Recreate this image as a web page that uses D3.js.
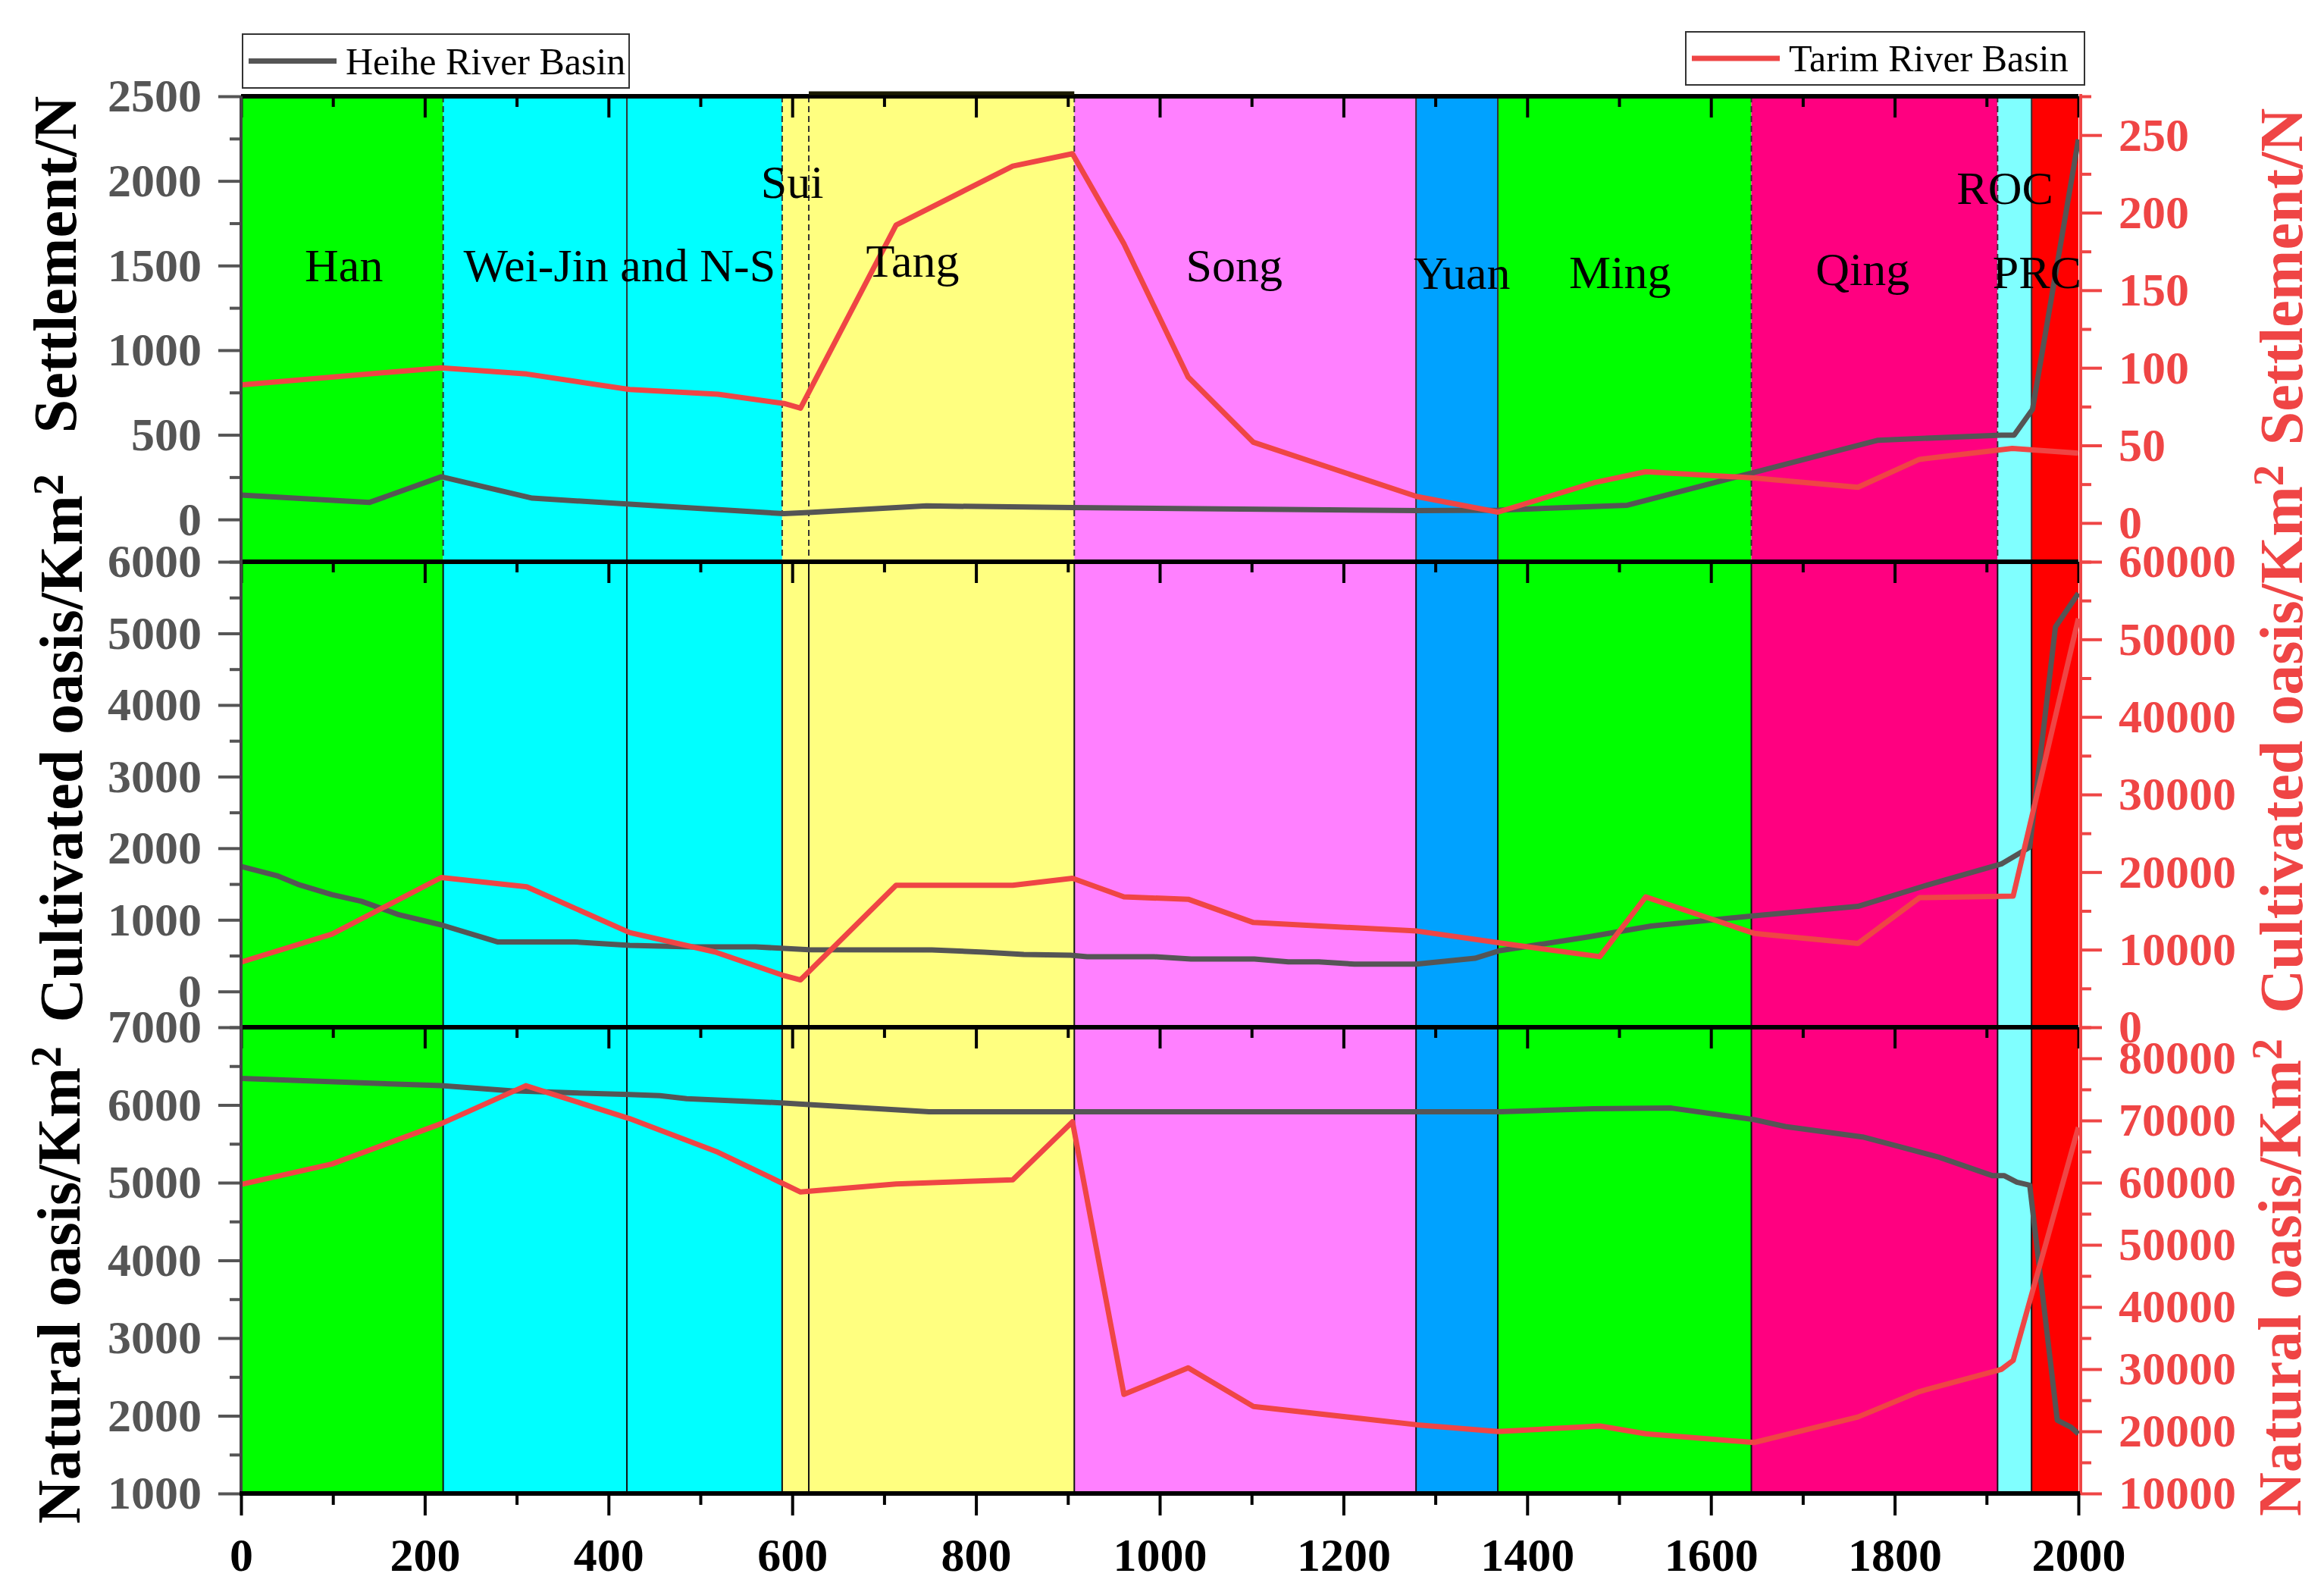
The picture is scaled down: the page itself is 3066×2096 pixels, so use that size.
<!DOCTYPE html>
<html>
<head>
<meta charset="utf-8">
<script src="https://cdn.jsdelivr.net/npm/d3@7"></script>
<style>
body { margin: 0; background: #fff; }
text { font-family: "Liberation Serif", "Times New Roman", serif; }
</style>
</head>
<body>
<div id="chart-area"></div>
<script>
// dynasties (start year) and the extra Wei-Jin / N-S split
var dynasties = ["Han", "Wei-Jin and N-S", "Sui", "Tang", "Song", "Yuan", "Ming", "Qing", "ROC", "PRC"];
var dynStart  = [0, 220, 589, 618, 907, 1279, 1368, 1644, 1912, 1949];
var dynEnd    = [220, 589, 618, 907, 1279, 1368, 1644, 1912, 1949, 2000];
var extraSplit = [420];
// label anchor: year and level on the settlement (left) axis
var labelYear  = [112, 412, 600, 731, 1081, 1329, 1501, 1765, 1920, 1955];
var labelLevel = [1407, 1407, 1900, 1434, 1407, 1362, 1367, 1385, 1864, 1367];

// Settlement / N
var heiheSettleYear = [0, 140, 218, 317, 423, 591, 618, 746, 905, 1280, 1368, 1509, 1647, 1782, 1916, 1930, 1950, 2000];
var heiheSettle     = [144, 101, 252, 126, 90, 34, 41, 80, 70, 52, 55, 84, 278, 468, 498, 498, 650, 2245];
var tarimSettleYear = [0, 218, 311, 423, 519, 591, 609, 713, 840, 905, 961, 1031, 1102, 1280, 1368, 1473, 1529, 1647, 1760, 1827, 1928, 2000];
var tarimSettle     = [89, 100, 96, 86, 83, 77, 74, 192, 230, 238, 180, 94, 52, 17, 7, 26, 33, 29, 23, 41, 48, 45];

// Cultivated oasis / Km2
var heiheCultYear = [0, 39, 62, 99, 131, 172, 218, 279, 363, 423, 490, 560, 618, 752, 809, 852, 903, 921, 994, 1034, 1103, 1140, 1173, 1212, 1279, 1343, 1370, 1467, 1535, 1647, 1760, 1838, 1916, 1947, 1975, 2000];
var heiheCult     = [1745, 1617, 1495, 1352, 1259, 1070, 929, 692, 692, 643, 622, 622, 583, 580, 548, 516, 505, 485, 485, 453, 453, 414, 414, 381, 381, 463, 569, 763, 914, 1056, 1188, 1495, 1779, 2015, 5090, 5560];
var tarimCultYear = [0, 99, 218, 311, 423, 516, 591, 609, 713, 840, 905, 961, 1031, 1102, 1280, 1389, 1479, 1529, 1647, 1760, 1827, 1929, 2000];
var tarimCult     = [8400, 12000, 19300, 18100, 12200, 9700, 6650, 6100, 18300, 18300, 19200, 16800, 16500, 13500, 12400, 10550, 9100, 16800, 12100, 10800, 16700, 16900, 52700];

// Natural oasis / Km2
var heiheNatYear = [0, 218, 293, 423, 456, 485, 591, 618, 749, 1370, 1472, 1557, 1602, 1647, 1681, 1765, 1804, 1849, 1906, 1919, 1933, 1947, 1977, 1992, 2000];
var heiheNat     = [6341, 6248, 6183, 6133, 6120, 6081, 6025, 6006, 5912, 5912, 5951, 5960, 5886, 5811, 5722, 5588, 5466, 5325, 5091, 5091, 5006, 4967, 1942, 1853, 1768];
var tarimNatYear = [0, 99, 218, 310, 423, 519, 609, 713, 840, 905, 961, 1031, 1102, 1280, 1368, 1479, 1529, 1647, 1760, 1827, 1916, 1929, 2000];
var tarimNat     = [59700, 63000, 69500, 75600, 70300, 64900, 58500, 59800, 60450, 69800, 25950, 30200, 24000, 21050, 19970, 20850, 19600, 18200, 22300, 26400, 29960, 31400, 68900];

// tick values
var xMajor = d3.range(0, 2001, 200);
var xMinor = d3.range(100, 2000, 200);
var leftMajor  = [d3.range(0, 2501, 500), d3.range(0, 6001, 1000), d3.range(1000, 7001, 1000)];
var leftMinor  = [d3.range(-250, 2500, 500), d3.range(-500, 6000, 1000), d3.range(1500, 7000, 1000)];
var rightMajor = [d3.range(0, 251, 50), d3.range(0, 60001, 10000), d3.range(10000, 80001, 10000)];
var rightMinor = [[-25, 25, 75, 125, 175, 225, 275], d3.range(5000, 60000, 10000), d3.range(15000, 85001, 10000)];
var leftTitles  = ["Settlement/N", "Cultivated oasis/Km", "Natural oasis/Km"];
var titleSup    = ["", "2", "2"];

// look
var dynColor = ["#00ff00", "#00ffff", "#ffff80", "#ffff80", "#ff80ff", "#00a2ff", "#00ff00", "#ff0080", "#80ffff", "#ff0000"];
var grayLine = "#555555";
var redLine = "#ef4545";

var W = 3066, H = 2096;
var panels = [
    { top: 127, bottom: 741, left: [-250, 2500], right: [-25, 275], lTitle: [100, 349], rTitle: [3037, 365] },
    { top: 741, bottom: 1355, left: [-500, 6000], right: [0, 60000], lTitle: [108, 987], rTitle: [3037, 975] },
    { top: 1355, bottom: 1970, left: [1000, 7000], right: [10000, 85000], lTitle: [105, 1695], rTitle: [3035, 1685] }
];
var series = [
    [heiheSettleYear, heiheSettle, tarimSettleYear, tarimSettle],
    [heiheCultYear, heiheCult, tarimCultYear, tarimCult],
    [heiheNatYear, heiheNat, tarimNatYear, tarimNat]
];
// boundaries drawn solid in the top panel, the rest dashed there
var topSolid = [420, 1279, 1368, 1949];

var svg = d3.select("#chart-area").append("svg")
    .attr("width", W)
    .attr("height", H);

var x = d3.scaleLinear().domain([0, 2000]).range([318, 2742]);
var xRightAxis = 2745;

panels.forEach((p, i) => {
    p.yL = d3.scaleLinear().domain(p.left).range([p.bottom, p.top]);
    p.yR = d3.scaleLinear().domain(p.right).range([p.bottom, p.top]);
    var g = svg.append("g");

    // dynasty backgrounds
    g.selectAll("rect.dyn")
        .data(dynasties)
        .enter().append("rect")
            .attr("class", "dyn")
            .attr("x", (d, k) => x(dynStart[k]))
            .attr("y", p.top)
            .attr("width", (d, k) => x(dynEnd[k]) - x(dynStart[k]))
            .attr("height", p.bottom - p.top)
            .attr("fill", (d, k) => dynColor[k]);

    // boundaries
    var bounds = dynStart.slice(1).concat(extraSplit);
    g.selectAll("line.bound")
        .data(bounds)
        .enter().append("line")
            .attr("x1", d => x(d)).attr("x2", d => x(d))
            .attr("y1", p.top).attr("y2", p.bottom)
            .attr("stroke", i == 0 ? "#333" : "#111")
            .attr("stroke-width", 2)
            .attr("stroke-dasharray", d => (i == 0 && topSolid.indexOf(d) < 0) ? "8,5" : null);

    // lines
    var s = series[i];
    var heihe = s[0].map((yr, k) => [yr, s[1][k]]);
    var tarim = s[2].map((yr, k) => [yr, s[3][k]]);
    g.append("path")
        .datum(heihe)
        .attr("fill", "none")
        .attr("stroke", grayLine)
        .attr("stroke-width", 7)
        .attr("stroke-linejoin", "round")
        .attr("d", d3.line().x(d => x(d[0])).y(d => p.yL(d[1])));
    g.append("path")
        .datum(tarim)
        .attr("fill", "none")
        .attr("stroke", redLine)
        .attr("stroke-width", 7)
        .attr("stroke-linejoin", "round")
        .attr("d", d3.line().x(d => x(d[0])).y(d => p.yR(d[1])));
});

// dynasty labels (top panel)
svg.selectAll("text.dynlabel")
    .data(dynasties)
    .enter().append("text")
        .attr("class", "dynlabel")
        .attr("x", (d, k) => x(labelYear[k]))
        .attr("y", (d, k) => panels[0].yL(labelLevel[k]))
        .attr("text-anchor", "middle")
        .attr("font-size", "62px")
        .attr("fill", "#000")
        .text(d => d);

// axes
panels.forEach((p, i) => {
    // inward x ticks at top of every panel
    svg.append("g")
        .attr("transform", "translate(0," + p.top + ")")
        .call(d3.axisBottom(x).tickValues(xMinor).tickSize(14).tickFormat(""))
        .call(g => g.select(".domain").remove())
        .selectAll("line").attr("stroke", "#000").attr("stroke-width", 4);
    svg.append("g")
        .attr("transform", "translate(0," + p.top + ")")
        .call(d3.axisBottom(x).tickValues(xMajor).tickSize(28).tickFormat(""))
        .call(g => g.select(".domain").remove())
        .selectAll("line").attr("stroke", "#000").attr("stroke-width", 4);

    // left axis
    var lg = svg.append("g").attr("transform", "translate(318,0)");
    lg.call(d3.axisLeft(p.yL).tickValues(leftMinor[i]).tickSize(15).tickFormat(""))
        .call(g => g.select(".domain").remove())
        .selectAll("line").attr("stroke", "#555").attr("stroke-width", 4);
    var lg2 = svg.append("g").attr("transform", "translate(318,0)")
        .call(d3.axisLeft(p.yL).tickValues(leftMajor[i]).tickSize(30).tickPadding(22).tickFormat(d3.format("d")))
        .call(g => g.select(".domain").remove());
    lg2.selectAll("line").attr("stroke", "#555").attr("stroke-width", 4);
    lg2.selectAll("text")
        .attr("font-family", "Liberation Serif")
        .attr("font-size", "62px")
        .attr("font-weight", "bold")
        .attr("fill", "#555");

    // right axis
    var rg = svg.append("g").attr("transform", "translate(" + xRightAxis + ",0)");
    rg.call(d3.axisRight(p.yR).tickValues(rightMinor[i]).tickSize(14).tickFormat(""))
        .call(g => g.select(".domain").remove())
        .selectAll("line").attr("stroke", redLine).attr("stroke-width", 4);
    var rg2 = svg.append("g").attr("transform", "translate(" + xRightAxis + ",0)")
        .call(d3.axisRight(p.yR).tickValues(rightMajor[i]).tickSize(28).tickPadding(22).tickFormat(d3.format("d")))
        .call(g => g.select(".domain").remove());
    rg2.selectAll("line").attr("stroke", redLine).attr("stroke-width", 4);
    rg2.selectAll("text")
        .attr("font-family", "Liberation Serif")
        .attr("font-size", "62px")
        .attr("font-weight", "bold")
        .attr("fill", redLine);

    // axis titles
    var lt = svg.append("text")
        .attr("transform", "translate(" + p.lTitle[0] + "," + p.lTitle[1] + ") rotate(-90)")
        .attr("text-anchor", "middle")
        .attr("font-size", "80px")
        .attr("font-weight", "bold")
        .attr("fill", "#000")
        .text(leftTitles[i]);
    if (titleSup[i]) lt.append("tspan").attr("dy", "-0.45em").attr("font-size", "56px").text(titleSup[i]);

    var rt = svg.append("text")
        .attr("transform", "translate(" + p.rTitle[0] + "," + p.rTitle[1] + ") rotate(-90)")
        .attr("text-anchor", "middle")
        .attr("font-size", "80px")
        .attr("font-weight", "bold")
        .attr("fill", redLine)
        .text(leftTitles[i]);
    if (titleSup[i]) rt.append("tspan").attr("dy", "-0.45em").attr("font-size", "56px").text(titleSup[i]);

    // panel top border
    svg.append("line")
        .attr("x1", 318).attr("x2", 2742)
        .attr("y1", p.top).attr("y2", p.top)
        .attr("stroke", "#000").attr("stroke-width", 6);
});

// raised border on top of the Tang block
svg.append("line")
    .attr("x1", x(dynStart[3])).attr("x2", x(dynEnd[3]))
    .attr("y1", 123).attr("y2", 123)
    .attr("stroke", "#1a1a00").attr("stroke-width", 5);

// left and right axis lines
svg.append("line")
    .attr("x1", 318).attr("x2", 318).attr("y1", 127).attr("y2", 1970)
    .attr("stroke", "#444").attr("stroke-width", 4);
svg.append("line")
    .attr("x1", xRightAxis).attr("x2", xRightAxis).attr("y1", 124).attr("y2", 1972)
    .attr("stroke", redLine).attr("stroke-width", 4);

// bottom x axis
svg.append("g")
    .attr("transform", "translate(0,1970)")
    .call(d3.axisBottom(x).tickValues(xMinor).tickSize(15).tickFormat(""))
    .call(g => g.select(".domain").remove())
    .selectAll("line").attr("stroke", "#000").attr("stroke-width", 4);
var bx = svg.append("g")
    .attr("transform", "translate(0,1970)")
    .call(d3.axisBottom(x).tickValues(xMajor).tickSize(29).tickPadding(29).tickFormat(d3.format("d")))
    .call(g => g.select(".domain").remove());
bx.selectAll("line").attr("stroke", "#000").attr("stroke-width", 4);
bx.selectAll("text")
    .attr("font-family", "Liberation Serif")
    .attr("font-size", "62px")
    .attr("font-weight", "bold")
    .attr("fill", "#000");
svg.append("line")
    .attr("x1", 316).attr("x2", 2744).attr("y1", 1970).attr("y2", 1970)
    .attr("stroke", "#000").attr("stroke-width", 6);

// legends
var legends = [
    { label: "Heihe River Basin", color: grayLine, box: [320, 45, 510, 71] },
    { label: "Tarim River Basin", color: redLine, box: [2224, 42, 526, 70] }
];
legends.forEach(l => {
    var g = svg.append("g").attr("transform", "translate(" + l.box[0] + "," + l.box[1] + ")");
    g.append("rect")
        .attr("width", l.box[2]).attr("height", l.box[3])
        .attr("fill", "#fff").attr("stroke", "#333").attr("stroke-width", 2);
    g.append("line")
        .attr("x1", 8).attr("x2", 124)
        .attr("y1", l.box[3] / 2).attr("y2", l.box[3] / 2)
        .attr("stroke", l.color).attr("stroke-width", 7);
    g.append("text")
        .attr("x", 136).attr("y", l.box[3] / 2 + 17)
        .attr("font-size", "50px")
        .attr("fill", "#000")
        .text(l.label);
});
</script>
</body>
</html>
